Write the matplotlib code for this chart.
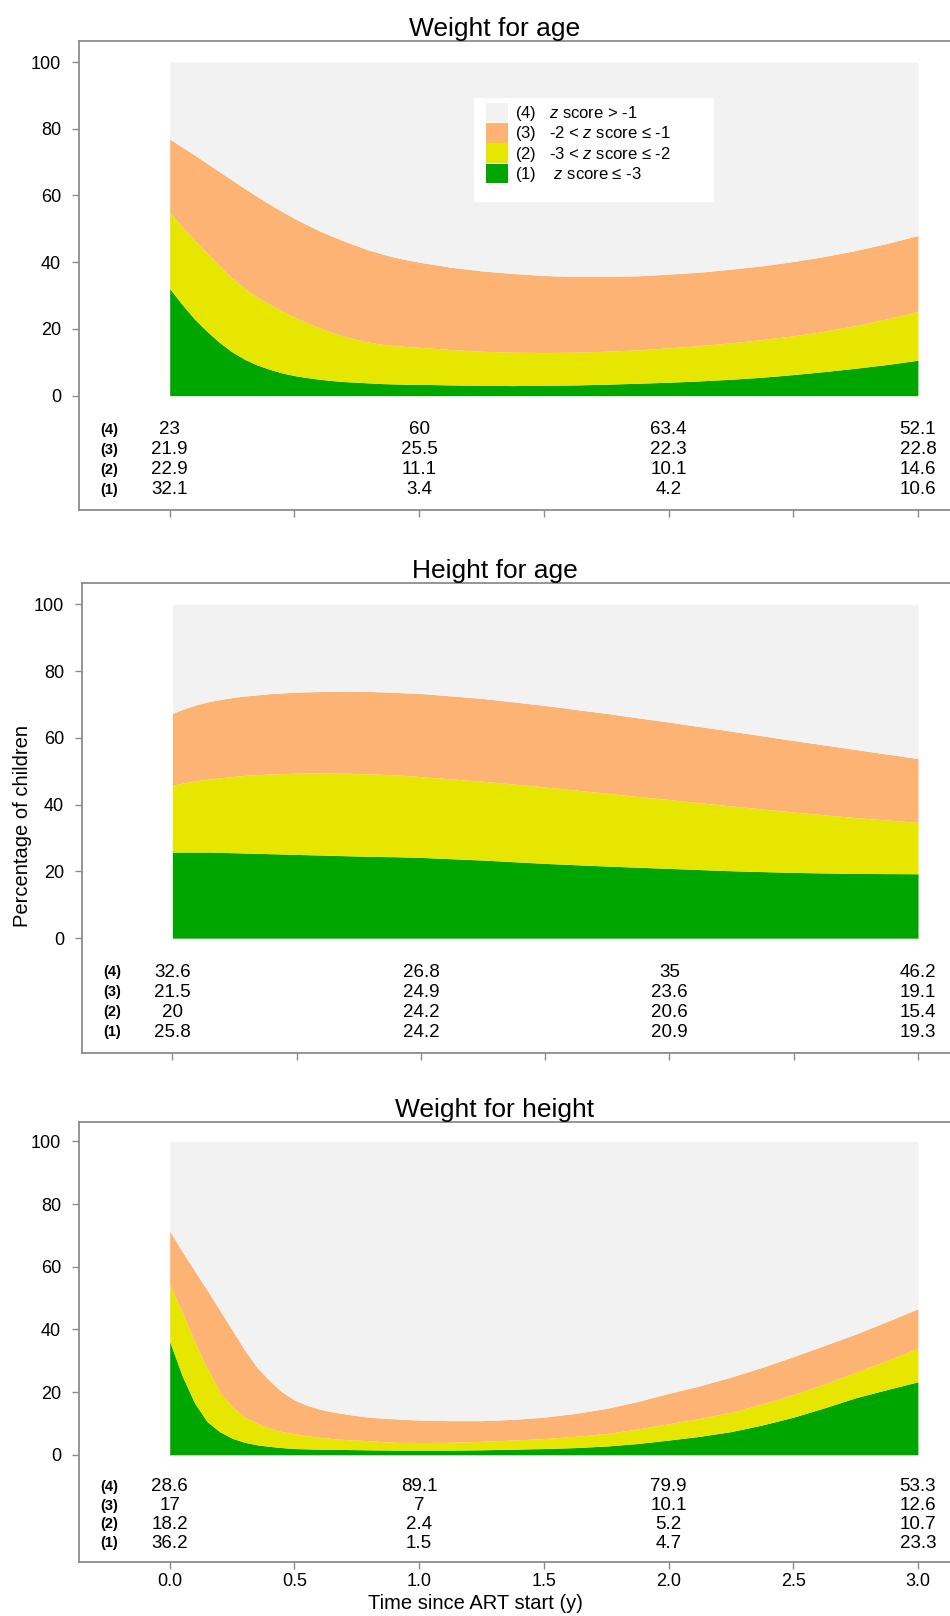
import matplotlib
matplotlib.use('Agg')
import matplotlib.pyplot as plt
from matplotlib.patches import Patch, Rectangle
from matplotlib.ticker import FormatStrFormatter
import numpy as np

plt.rcParams['font.family'] = ['Liberation Sans', 'DejaVu Sans']
plt.rcParams['mathtext.fontset'] = 'custom'
plt.rcParams['mathtext.rm'] = 'Liberation Sans'
plt.rcParams['mathtext.it'] = 'Liberation Sans:italic'

# ---------------- data ----------------
# dense time grid (years) used for panels 1 and 3
time_dense = [0, 0.05, 0.1, 0.15, 0.2, 0.25, 0.3, 0.35, 0.4, 0.45, 0.5, 0.55, 0.6,
              0.65, 0.7, 0.75, 0.8, 0.85, 0.9, 0.95, 1.0,
              1.125, 1.25, 1.375, 1.5, 1.625, 1.75, 1.875, 2.0,
              2.125, 2.25, 2.375, 2.5, 2.625, 2.75, 2.875, 3.0]
# coarser grid for the smooth height-for-age panel
time_hfa = [0, 0.05, 0.1, 0.15, 0.2, 0.25, 0.3, 0.4, 0.5, 0.6, 0.7, 0.8, 0.9,
            1.0, 1.25, 1.5, 1.75, 2.0, 2.25, 2.5, 2.75, 3.0]

# Weight for age: upper edge of bands (1), (1)+(2), (1)+(2)+(3)
wfa_cum1 = [32.1, 27.3, 22.9, 19.2, 15.9, 13.1, 10.9, 9.2, 7.9, 6.8, 6.0, 5.4, 4.9,
            4.5, 4.2, 4.0, 3.8, 3.6, 3.5, 3.4, 3.4,
            3.2, 3.1, 3.0, 3.1, 3.2, 3.4, 3.7, 4.0,
            4.4, 4.9, 5.5, 6.3, 7.2, 8.2, 9.3, 10.6]
wfa_cum2 = [55.0, 50.5, 46.6, 42.7, 38.9, 35.2, 32.2, 29.6, 27.4, 25.4, 23.5, 21.8, 20.3,
            18.9, 17.8, 16.8, 16.0, 15.4, 15.0, 14.7, 14.5,
            13.8, 13.3, 13.0, 12.9, 13.0, 13.3, 13.7, 14.3,
            15.0, 15.8, 16.8, 17.9, 19.3, 21.0, 23.0, 25.2]
wfa_cum3 = [76.9, 74.5, 72.1, 69.6, 67.1, 64.6, 62.1, 59.7, 57.4, 55.2, 53.1, 51.2, 49.4,
            47.8, 46.3, 44.9, 43.6, 42.5, 41.5, 40.7, 40.0,
            38.5, 37.4, 36.6, 36.0, 35.7, 35.7, 35.9, 36.4,
            37.0, 37.9, 38.9, 40.2, 41.7, 43.5, 45.6, 48.0]

# Height for age
hfa_cum1 = [25.8, 25.8, 25.8, 25.8, 25.7, 25.6, 25.5, 25.3, 25.1, 24.9, 24.7, 24.5, 24.4,
            24.2, 23.4, 22.4, 21.6, 20.9, 20.2, 19.7, 19.4, 19.3]
hfa_cum2 = [45.8, 46.6, 47.2, 47.7, 48.1, 48.5, 48.8, 49.2, 49.4, 49.5, 49.4, 49.2, 48.9,
            48.4, 47.0, 45.3, 43.4, 41.5, 39.6, 37.8, 36.1, 34.7]
hfa_cum3 = [67.3, 68.8, 70.0, 70.9, 71.6, 72.2, 72.6, 73.3, 73.7, 73.9, 74.0, 73.9, 73.6,
            73.3, 71.8, 69.7, 67.3, 64.7, 62.0, 59.2, 56.5, 53.8]

# Weight for height
wfh_cum1 = [36.2, 25.2, 16.5, 10.6, 7.4, 5.3, 4.0, 3.2, 2.7, 2.3, 2.0, 1.9, 1.8,
            1.75, 1.7, 1.65, 1.6, 1.55, 1.5, 1.5, 1.5,
            1.5, 1.6, 1.8, 2.0, 2.3, 2.8, 3.6, 4.7,
            5.9, 7.4, 9.5, 12.0, 15.0, 18.2, 20.8, 23.3]
wfh_cum2 = [54.4, 45.5, 36.1, 27.6, 20.2, 15.4, 12.0, 10.1, 8.5, 7.4, 6.7, 6.1, 5.6,
            5.2, 4.9, 4.7, 4.5, 4.2, 4.0, 3.9, 3.9,
            4.0, 4.3, 4.7, 5.2, 5.9, 6.8, 8.2, 9.9,
            11.6, 13.6, 16.2, 19.2, 22.6, 26.3, 30.1, 34.0]
wfh_cum3 = [71.4, 64.9, 58.7, 52.6, 46.2, 39.9, 33.5, 27.9, 23.7, 20.1, 17.5, 15.8, 14.6,
            13.7, 13.1, 12.5, 12.0, 11.7, 11.5, 11.3, 11.1,
            10.9, 10.9, 11.3, 12.0, 13.2, 14.8, 17.0, 19.6,
            22.0, 24.8, 27.9, 31.3, 34.9, 38.5, 42.5, 46.6]

table_times = [0, 1, 2, 3]
row_labels = ['(4)', '(3)', '(2)', '(1)']

wfa_table = [[23, 60, 63.4, 52.1],
             [21.9, 25.5, 22.3, 22.8],
             [22.9, 11.1, 10.1, 14.6],
             [32.1, 3.4, 4.2, 10.6]]
hfa_table = [[32.6, 26.8, 35, 46.2],
             [21.5, 24.9, 23.6, 19.1],
             [20, 24.2, 20.6, 15.4],
             [25.8, 24.2, 20.9, 19.3]]
wfh_table = [[28.6, 89.1, 79.9, 53.3],
             [17, 7, 10.1, 12.6],
             [18.2, 2.4, 5.2, 10.7],
             [36.2, 1.5, 4.7, 23.3]]

titles = ['Weight for age', 'Height for age', 'Weight for height']
legend_labels = ['(4)   $\\mathit{z}$ score > -1',
                 '(3)   -2 < $\\mathit{z}$ score \u2264 -1',
                 '(2)   -3 < $\\mathit{z}$ score \u2264 -2',
                 '(1)    $\\mathit{z}$ score \u2264 -3']

# ---------------- style ----------------
col_green = '#00A600'
col_yellow = '#E6E600'
col_orange = '#FDB373'
col_grey = '#F2F2F2'
spine_col = '#8c8c8c'

W, H = 950, 1616
fig = plt.figure(figsize=(W / 100, H / 100), dpi=100)

# axes rectangles in pixels: left, top, bottom
rects_px = [(79.3, 41.0, 510.0), (82.3, 583.3, 1052.7), (79.3, 1121.7, 1562.3)]
title_x_px = 495.0
row_y = [-10.2, -16.2, -22.2, -28.2]

panels = [(time_dense, wfa_cum1, wfa_cum2, wfa_cum3, wfa_table),
          (time_hfa, hfa_cum1, hfa_cum2, hfa_cum3, hfa_table),
          (time_dense, wfh_cum1, wfh_cum2, wfh_cum3, wfh_table)]

for i, ((tt_, c1, c2, c3, tab), (lpx, tpx, bpx)) in enumerate(zip(panels, rects_px)):
    ax = fig.add_axes([lpx / W, 1 - bpx / H, 1 - lpx / W, (bpx - tpx) / H])
    t = np.array(tt_)
    c1, c2, c3 = np.array(c1), np.array(c2), np.array(c3)
    ax.fill_between(t, 0, c1, color=col_green, lw=0)
    ax.fill_between(t, c1, c2, color=col_yellow, lw=0)
    ax.fill_between(t, c2, c3, color=col_orange, lw=0)
    ax.fill_between(t, c3, 100, color=col_grey, lw=0)

    ax.set_xlim(-0.3625, 3.1287)
    ax.set_ylim(-34.3, 106.3)
    ax.set_yticks([0, 20, 40, 60, 80, 100])
    ax.set_xticks(np.arange(0, 3.01, 0.5))
    ax.xaxis.set_major_formatter(FormatStrFormatter('%.1f'))

    for s in ['left', 'top', 'bottom']:
        ax.spines[s].set_color(spine_col)
        ax.spines[s].set_linewidth(1.3)
    ax.spines['right'].set_visible(False)
    ax.tick_params(axis='both', direction='out', length=5, width=1,
                   color=spine_col, labelsize=13, labelcolor='black')
    ax.tick_params(axis='y', pad=8)
    ax.tick_params(axis='x', pad=3)
    if i < 2:
        ax.tick_params(axis='x', labelbottom=False)

    ax_w = W - lpx
    ax.set_title(titles[i], fontsize=19, x=(title_x_px - lpx) / ax_w, pad=3)

    # table of percentages
    for r, (lab, vals) in enumerate(zip(row_labels, tab)):
        ax.text(-0.243, row_y[r], lab, ha='center', va='center',
                fontsize=10.5, fontweight='bold')
        for tt, v in zip(table_times, vals):
            ax.text(tt, row_y[r], '{:g}'.format(v), ha='center', va='center',
                    fontsize=13.5)

    if i == 0:
        box = Rectangle(((474 - lpx) / ax_w, (bpx - 202) / (bpx - tpx)),
                        (714 - 474) / ax_w, 104 / (bpx - tpx),
                        transform=ax.transAxes, facecolor='white',
                        edgecolor='none', zorder=3)
        ax.add_patch(box)
        handles = [Patch(facecolor=col_grey, edgecolor='none'),
                   Patch(facecolor=col_orange, edgecolor='none'),
                   Patch(facecolor=col_yellow, edgecolor='none'),
                   Patch(facecolor=col_green, edgecolor='none')]
        leg = ax.legend(handles, legend_labels, loc='upper left',
                        bbox_to_anchor=((486 - lpx) / ax_w, (bpx - 103) / (bpx - tpx)),
                        frameon=False, borderpad=0, borderaxespad=0,
                        labelspacing=0, handlelength=1.32, handleheight=1.41,
                        handletextpad=0.42, fontsize=12)
        leg.set_zorder(5)
    if i == 1:
        ax.set_ylabel('Percentage of children', fontsize=14.5, va='bottom')
        ax.yaxis.set_label_coords((31.7 - lpx) / ax_w, (bpx - 825.8) / (bpx - tpx))
    if i == 2:
        ax.set_xlabel('Time since ART start (y)', fontsize=14.5)
        ax.xaxis.set_label_coords((475 - lpx) / ax_w, (bpx - 1594) / (bpx - tpx))

fig.savefig('out.png', dpi=100)
